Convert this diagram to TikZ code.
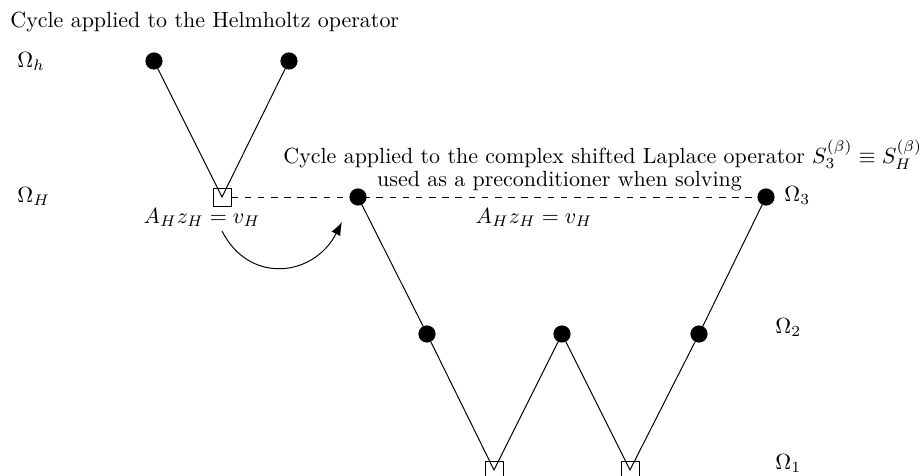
\documentclass[tikz,border=0pt]{standalone}
\usetikzlibrary{arrows.meta}
\begin{document}
\begin{tikzpicture}[x=0.4554pt,y=-0.4554pt,
  dot/.style={circle,fill=black,draw=black,inner sep=0pt,minimum size=7.4pt},
  gridpt/.style={draw=black,fill=white,inner sep=0pt,minimum size=8.2pt},
  lbl/.style={inner sep=0pt,anchor=base west},
  lblc/.style={inner sep=0pt,anchor=base},
  edge/.style={draw=black,line width=0.45pt},
  link/.style={draw=black,dashed,line width=0.45pt}]
\clip (0,0) rectangle (924,476);
\useasboundingbox (0,0) rectangle (924,476);

% level labels
\node[lbl] (title) at (10,27) {Cycle applied to the Helmholtz operator};
\node[lbl] (Oh) at (17,67) {$\Omega_h$};
\node[lbl] (OH) at (17,202) {$\Omega_H$};
\node[lbl] (O3) at (784,201) {$\Omega_3$};
\node[lbl] (O2) at (775,333) {$\Omega_2$};
\node[lbl] (O1) at (775,469) {$\Omega_1$};

% text of the second cycle
\node[lbl] (t1) at (283,163) {Cycle applied to the complex shifted Laplace operator $S_3^{(\beta)}\equiv S_H^{(\beta)}$};
\node[lblc] (t2) at (559.5,187) {used as a preconditioner when solving};
\node[lblc] (eq1) at (202,223) {$A_Hz_H=v_H$};
\node[lblc] (eq2) at (534,223) {$A_Hz_H=v_H$};

% grid points
\coordinate (h1) at (154,61);
\coordinate (h2) at (289,61);
\coordinate (s0) at (222,197);
\coordinate (H) at (358,197);
\coordinate (H3) at (766,197);
\coordinate (a2) at (427,334);
\coordinate (b2) at (562,334);
\coordinate (c2) at (699,334);
\coordinate (s1) at (494,470);
\coordinate (s2) at (630,470);

% squares
\node[gridpt] (sq0) at (s0) {};
\node[gridpt] (sq1) at (s1) {};
\node[gridpt] (sq2) at (s2) {};

% connectors
\draw[link] (sq0.east) -- (H3);
\draw[edge] (h1) -- (sq0.center) -- (h2);
\draw[edge] (H) -- (a2) -- (sq1.center) -- (b2) -- (sq2.center) -- (c2) -- (H3);

% dots
\foreach \p in {h1,h2,H,H3,a2,b2,c2} \node[dot] (d\p) at (\p) {};

% curved arrow
\coordinate (arrS) at (222,231);
\coordinate (arrE) at (342,222);
\draw[edge,-{Latex[length=6pt,width=4.5pt]}] (arrS) to[out=-63,in=-117,looseness=1.3] (arrE);
\end{tikzpicture}
\end{document}
